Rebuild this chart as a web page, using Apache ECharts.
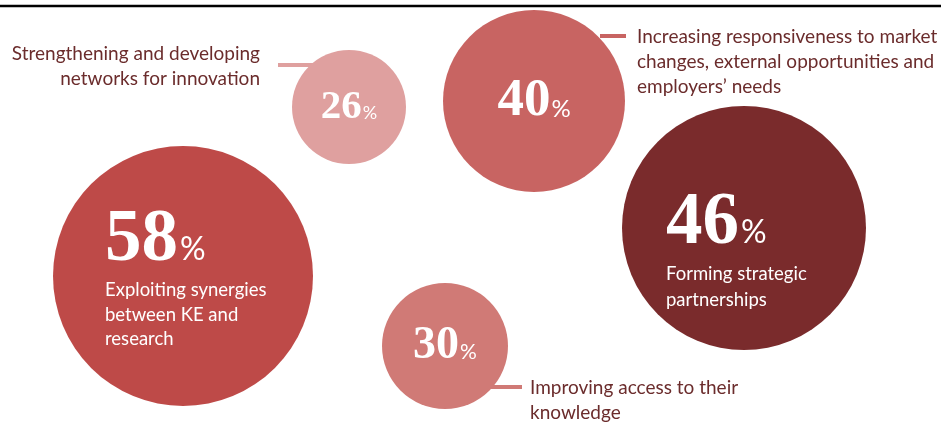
<!DOCTYPE html>
<html>
<head>
<meta charset="utf-8">
<style>
html,body{margin:0;padding:0;background:#fff;}
#chart{width:941px;height:423px;}
</style>
<script src="https://cdn.jsdelivr.net/npm/echarts@6/dist/echarts.min.js"></script>
</head>
<body>
<div id="chart"></div>
<script>
// ---- data ----
const categories = [
  'Exploiting synergies\nbetween KE and\nresearch',
  'Forming strategic\npartnerships',
  'Increasing responsiveness to market\nchanges, external opportunities and\nemployers\u2019 needs',
  'Improving access to their\nknowledge',
  'Strengthening and developing\nnetworks for innovation'
];
const values = [58, 46, 40, 30, 26];

// ---- layout (bubble placement, not data) ----
const centerX = [183, 744, 534, 445, 349];
const centerY = [276, 228, 101, 346, 107];
const diameters = [260, 244, 182, 126, 114];
const colors = ['#BE4A48', '#7A2B2C', '#C86462', '#D07A76', '#DFA09F'];
const labelInside = [true, true, false, false, false];
const calloutOffset = [null, null, [103, -77], [85, 29], [-89, -66]];
const calloutAlign = [null, null, 'left', 'left', 'right'];
const connectorX = [null, null, [600, 626], [480, 522], [278, 330]];
const connectorY = [null, null, 36, 387, 65];

const textColor = '#6B2C2C';
const serif = '"Liberation Serif", "DejaVu Serif", serif';
const sans = 'Lato, "Open Sans", sans-serif';

const chart = echarts.init(document.getElementById('chart'));

const bubbleData = values.map((v, i) => {
  const big = labelInside[i];
  let label;
  if (big) {
    const lh = i === 0 ? 82 : 86;
    label = {
      show: true,
      position: i === 0 ? [52, 50] : [44, 69],
      align: 'left',
      verticalAlign: 'top',
      formatter: '{num|' + v + '}{pct|%}\n' + categories[i].split('\n').map(s => '{txt|' + s + '}').join('\n'),
      rich: {
        num: { fontFamily: serif, fontWeight: 'bold', fontSize: 73, lineHeight: lh, color: '#fff', verticalAlign: 'bottom' },
        pct: { fontFamily: sans, fontSize: 32, lineHeight: lh, color: '#fff', verticalAlign: 'bottom', padding: [0, 0, 12, 2] },
        txt: { fontFamily: sans, fontSize: 18.5, lineHeight: i === 0 ? 24.5 : 26, color: '#fff' }
      }
    };
  } else {
    const ns = i === 2 ? 53 : (i === 3 ? 46 : 41);
    label = {
      show: true,
      position: 'inside',
      formatter: '{num|' + v + '}{pct|%}',
      rich: {
        num: { fontFamily: serif, fontWeight: 'bold', fontSize: ns, color: '#fff', verticalAlign: 'bottom', lineHeight: ns },
        pct: { fontFamily: sans, fontSize: Math.round(ns * 0.45), color: '#fff', verticalAlign: 'bottom', lineHeight: ns, padding: [0, 0, Math.round(ns * 0.12), 1] }
      }
    };
  }
  return {
    value: [centerX[i], centerY[i], v],
    symbolSize: diameters[i],
    itemStyle: { color: colors[i], opacity: 1 },
    label: label
  };
});

const calloutData = [];
values.forEach((v, i) => {
  if (labelInside[i]) return;
  calloutData.push({
    value: [centerX[i], centerY[i]],
    label: {
      show: true,
      position: calloutOffset[i],
      align: calloutAlign[i],
      verticalAlign: 'top',
      formatter: categories[i],
      fontFamily: sans,
      fontSize: 19,
      lineHeight: 25,
      color: textColor
    }
  });
});

const connectorData = [];
values.forEach((v, i) => {
  if (!connectorX[i]) return;
  connectorData.push({
    coords: [[connectorX[i][0], connectorY[i]], [connectorX[i][1], connectorY[i]]],
    lineStyle: { color: colors[i], width: 4, opacity: 1 }
  });
});

chart.setOption({
  animation: false,
  backgroundColor: '#fff',
  grid: { left: 0, right: 0, top: 0, bottom: 0 },
  xAxis: { type: 'value', min: 0, max: 941, show: false },
  yAxis: { type: 'value', min: 0, max: 423, inverse: true, show: false },
  graphic: [{
    type: 'line',
    shape: { x1: 0, y1: 6, x2: 941, y2: 6 },
    style: { stroke: '#000', lineWidth: 2.5 },
    z: 100
  }],
  series: [
    {
      type: 'lines',
      coordinateSystem: 'cartesian2d',
      polyline: false,
      symbol: 'none',
      z: 1,
      lineStyle: { opacity: 1 },
      data: connectorData
    },
    {
      type: 'scatter',
      z: 2,
      symbol: 'circle',
      itemStyle: { opacity: 1 },
      data: bubbleData
    },
    {
      type: 'scatter',
      z: 3,
      symbolSize: 0,
      itemStyle: { opacity: 1 },
      data: calloutData
    }
  ]
});
</script>
</body>
</html>
